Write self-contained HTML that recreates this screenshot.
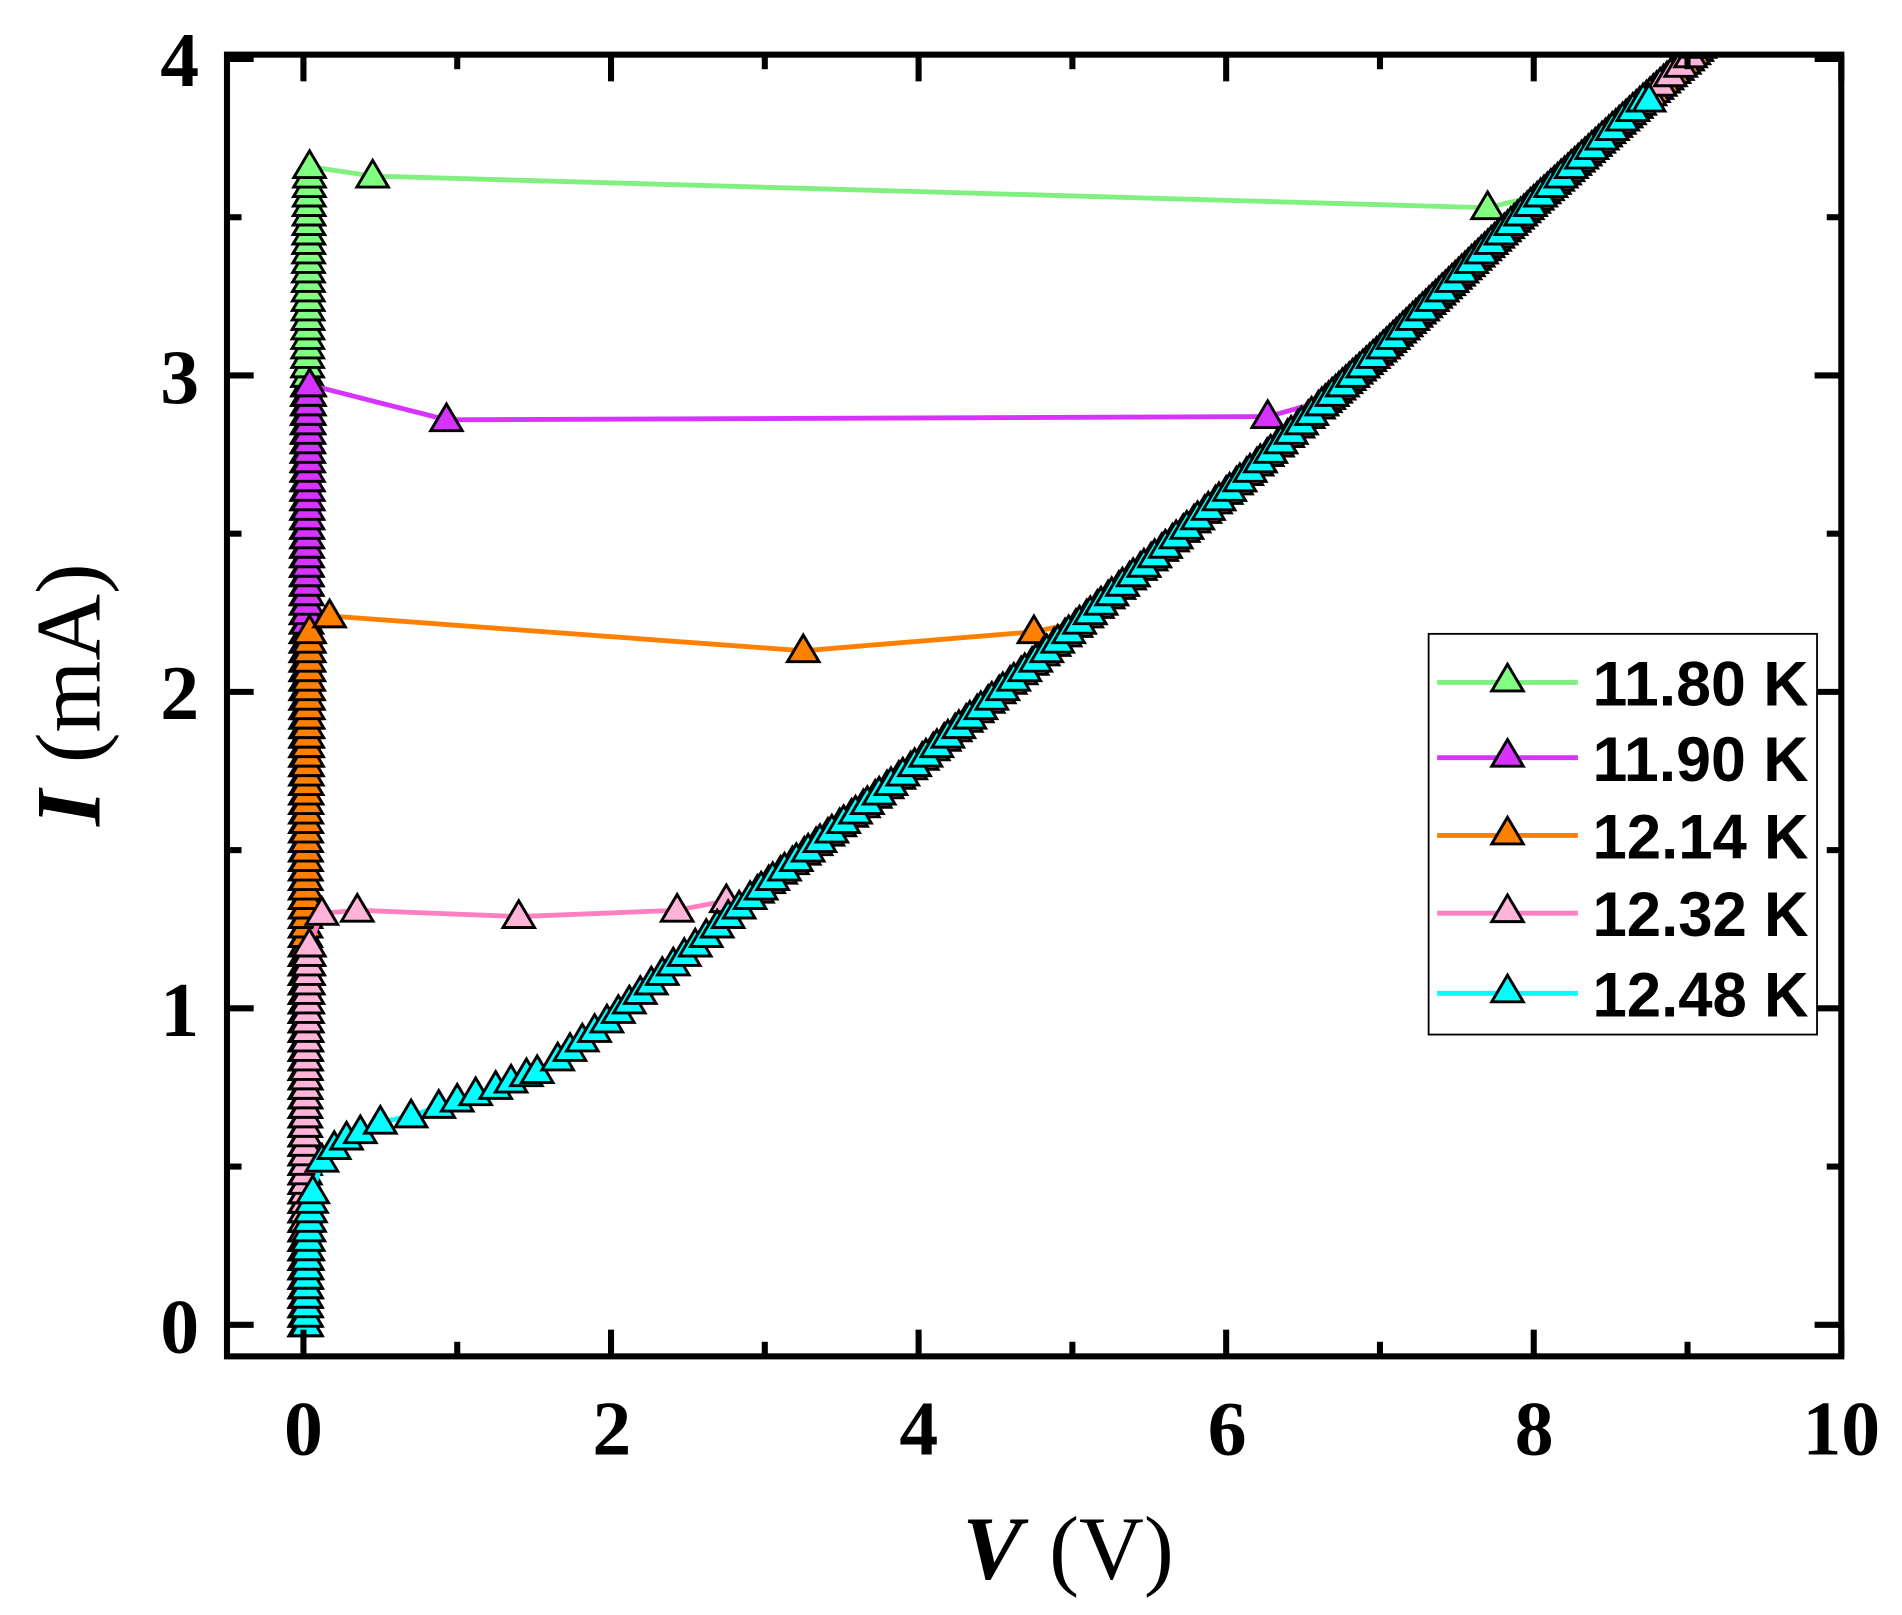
<!DOCTYPE html>
<html><head><meta charset="utf-8"><style>
html,body{margin:0;padding:0;background:#fff;}
svg{display:block;}
</style></head><body>
<svg id="s" width="1902" height="1615" viewBox="0 0 1567 1330" preserveAspectRatio="none" xmlns="http://www.w3.org/2000/svg">
<defs><clipPath id="c"><rect x="187" y="45" width="1330" height="1072"/></clipPath></defs>
<rect width="1567" height="1330" fill="#fff"/>
<g id="data" clip-path="url(#c)"></g>
<g id="axes" stroke="#000" fill="none"></g>
<g font-family="Liberation Serif, serif" font-weight="bold" font-size="64" fill="#000">
<text x="250" y="1198" text-anchor="middle">0</text>
<text x="504" y="1198" text-anchor="middle">2</text>
<text x="757" y="1198" text-anchor="middle">4</text>
<text x="1011" y="1198" text-anchor="middle">6</text>
<text x="1264" y="1198" text-anchor="middle">8</text>
<text x="1517" y="1198" text-anchor="middle">10</text>
<text x="164" y="1114" text-anchor="end">0</text>
<text x="164" y="853" text-anchor="end">1</text>
<text x="164" y="592" text-anchor="end">2</text>
<text x="164" y="332" text-anchor="end">3</text>
<text x="164" y="71" text-anchor="end">4</text>
</g>
<text x="880" y="1300" text-anchor="middle" font-family="Liberation Serif, serif" font-size="74"><tspan font-weight="bold" font-style="italic">V</tspan><tspan dx="22">(V)</tspan></text>
<text transform="translate(82,572) rotate(-90)" text-anchor="middle" font-family="Liberation Serif, serif" font-size="76"><tspan font-weight="bold" font-style="italic">I</tspan><tspan dx="22">(mA)</tspan></text>
<g id="legend"></g>
</svg>
<script>
const NS="http://www.w3.org/2000/svg";
const X=v=>250+126.7*v, Y=i=>1091-260.6*i;
function el(p,t,a){const e=document.createElementNS(NS,t);for(const k in a)e.setAttribute(k,a[k]);p.appendChild(e);return e;}
const ax=document.getElementById('axes');
el(ax,'rect',{x:187,y:45,width:1330,height:1072,'stroke-width':5});
for(let v=0;v<=10;v++){const L=v%2?12:22,x=X(v);
 el(ax,'line',{x1:x,y1:1117,x2:x,y2:1117-L,'stroke-width':5});
 el(ax,'line',{x1:x,y1:45,x2:x,y2:45+L,'stroke-width':5});}
for(let k=0;k<=8;k++){const i=k*0.5,L=k%2?12:22,y=Y(i);
 el(ax,'line',{x1:187,y1:y,x2:187+L,y2:y,'stroke-width':5});
 el(ax,'line',{x1:1517,y1:y,x2:1517-L,y2:y,'stroke-width':5});}
const br=[[0.82,1.6],[0.97,2.0],[1.39,3.0],[1.78,4.0],[2.2,5.0],[2.63,6.0],[3.08,7.0],[3.55,8.0],[4.0,9.0],[4.1,9.2]];
function bv(I){for(let k=0;k<br.length-1;k++){const a=br[k],b=br[k+1];if(I<=b[0])return a[1]+(I-a[0])/(b[0]-a[0])*(b[1]-a[1]);}return 9.2;}
function series(Ic,jump,Istart,Iend){const p=[];
 for(let i=0;i<=Ic;i+=0.03)p.push([0.01+0.03*Math.pow(i/Ic,3),i]);
 p.push(...jump);
 for(let i=Istart;i<=Iend;i+=0.03)p.push([bv(i),i]);
 return p;}
const S=[
 {c:'#80f080',f:'#80ff80',p:series(3.67,[[0.45,3.63],[7.7,3.53]],3.57,4.1)},
 {c:'#d633ff',f:'#d633ff',p:series(2.97,[[0.93,2.86],[6.27,2.87]],2.92,4.1)},
 {c:'#ff8000',f:'#ff8000',p:series(2.2,[[0.17,2.24],[3.25,2.13],[4.75,2.19]],2.22,4.1)},
 {c:'#ff80c0',f:'#ffb3d9',p:series(1.22,[[0.12,1.3],[0.35,1.31],[1.4,1.29],[2.43,1.31],[2.75,1.34]],1.37,4.1)},
 {c:'#00ffff',f:'#00ffff',p:(()=>{const p=[];for(let i=0;i<=0.45;i+=0.03)p.push([0.02+0.05*Math.pow(i/0.45,3),i]);
   p.push([0.12,0.52],[0.2,0.56],[0.28,0.59],[0.37,0.61],[0.5,0.64],[0.7,0.66],[0.88,0.69],[1.0,0.71],[1.12,0.73],[1.25,0.75],[1.35,0.77],[1.45,0.79],[1.52,0.8]);
   for(let i=0.84;i<=3.87;i+=0.03)p.push([bv(i),i]);p.push([8.75,3.87]);return p;})()}
];
const g=document.getElementById('data');
function tri(p,x,y,f){el(p,'polygon',{points:`${x-13},${y+9} ${x+13},${y+9} ${x},${y-13}`,fill:f,stroke:'#000','stroke-width':2.4,'stroke-linejoin':'miter'});}
S.forEach(s=>{el(g,'polyline',{points:s.p.map(q=>X(q[0])+','+Y(q[1])).join(' '),fill:'none',stroke:s.c,'stroke-width':4});
 s.p.forEach(q=>tri(g,X(q[0]),Y(q[1]),s.f));});
const lg=document.getElementById('legend');
el(lg,'rect',{x:1177,y:522,width:320,height:330,fill:'#fff',stroke:'#000','stroke-width':1.5});
const names=['11.80 K','11.90 K','12.14 K','12.32 K','12.48 K'],ys=[562,624,688,752,818];
S.forEach((s,k)=>{const y=ys[k];
 el(lg,'line',{x1:1184,y1:y,x2:1300,y2:y,stroke:s.c,'stroke-width':4});
 tri(lg,1242,y-2,s.f);
 const t=el(lg,'text',{x:1312,y:y+19,'font-family':'Liberation Sans, sans-serif','font-weight':'bold','font-size':'52',fill:'#000',textLength:'178',lengthAdjust:'spacingAndGlyphs'});t.textContent=names[k];});
</script>
</body></html>
